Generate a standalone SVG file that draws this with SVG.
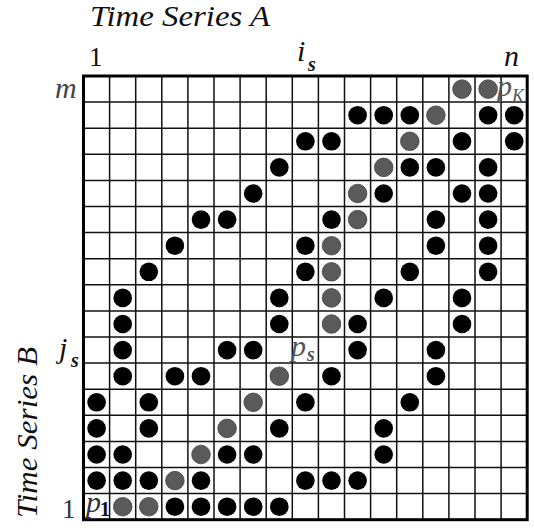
<svg xmlns="http://www.w3.org/2000/svg" width="534" height="528" viewBox="0 0 534 528">
<style>
.b{fill:#000}
.g{fill:#5a5a5a;stroke:#444;stroke-width:0.8}
.grid{stroke:#111;stroke-width:1.5;fill:none}
.frame{stroke:#000;stroke-width:3;fill:none}
</style>
<rect width="534" height="528" fill="#fff"/>
<g id="labels" font-family="Liberation Serif, Times New Roman, serif" fill="#111">
<text x="90" y="26" font-size="29" font-style="italic" textLength="180" lengthAdjust="spacingAndGlyphs">Time Series A</text>
<text transform="translate(37,518) rotate(-90)" font-size="29" font-style="italic" textLength="171" lengthAdjust="spacingAndGlyphs">Time Series B</text>
<text x="89" y="66" font-size="27" font-weight="300">1</text>
<text x="297" y="61" font-size="30" font-style="italic">i</text>
<text x="308" y="71" font-size="20" font-style="italic" font-weight="bold">s</text>
<text x="504" y="66" font-size="30" font-style="italic">n</text>
<text x="55" y="98" font-size="30" font-style="italic" fill="#444">m</text>
<text x="59" y="358" font-size="30" font-style="italic">j</text>
<text x="71" y="367" font-size="20" font-style="italic" font-weight="bold">s</text>
<text x="62" y="518" font-size="27" fill="#333">1</text>
</g>
<g id="grid">
<path class="grid" d="M109.6 76V519.7M135.7 76V519.7M161.8 76V519.7M187.9 76V519.7M214 76V519.7M240.1 76V519.7M266.2 76V519.7M292.3 76V519.7M318.4 76V519.7M344.5 76V519.7M370.6 76V519.7M396.7 76V519.7M422.8 76V519.7M448.9 76V519.7M475 76V519.7M501.1 76V519.7M83.5 102.1H527.2M83.5 128.2H527.2M83.5 154.3H527.2M83.5 180.4H527.2M83.5 206.5H527.2M83.5 232.6H527.2M83.5 258.7H527.2M83.5 284.8H527.2M83.5 310.9H527.2M83.5 337H527.2M83.5 363.1H527.2M83.5 389.2H527.2M83.5 415.3H527.2M83.5 441.4H527.2M83.5 467.5H527.2M83.5 493.6H527.2"/>
<rect class="frame" x="83.5" y="76" width="443.7" height="443.7"/>
</g>
<g id="black-points">
<circle class="b" r="9.3" cx="357.6" cy="115.2"/><circle class="b" r="9.3" cx="383.7" cy="115.2"/><circle class="b" r="9.3" cx="409.8" cy="115.2"/><circle class="b" r="9.3" cx="488.1" cy="115.2"/><circle class="b" r="9.3" cx="514.2" cy="115.2"/>
<circle class="b" r="9.3" cx="305.4" cy="141.3"/><circle class="b" r="9.3" cx="331.5" cy="141.3"/><circle class="b" r="9.3" cx="462" cy="141.3"/><circle class="b" r="9.3" cx="514.2" cy="141.3"/>
<circle class="b" r="9.3" cx="279.3" cy="167.4"/><circle class="b" r="9.3" cx="409.8" cy="167.4"/><circle class="b" r="9.3" cx="435.9" cy="167.4"/><circle class="b" r="9.3" cx="488.1" cy="167.4"/>
<circle class="b" r="9.3" cx="253.2" cy="193.5"/><circle class="b" r="9.3" cx="383.7" cy="193.5"/><circle class="b" r="9.3" cx="462" cy="193.5"/><circle class="b" r="9.3" cx="488.1" cy="193.5"/>
<circle class="b" r="9.3" cx="201" cy="219.6"/><circle class="b" r="9.3" cx="227.1" cy="219.6"/><circle class="b" r="9.3" cx="331.5" cy="219.6"/><circle class="b" r="9.3" cx="435.9" cy="219.6"/><circle class="b" r="9.3" cx="488.1" cy="219.6"/>
<circle class="b" r="9.3" cx="174.9" cy="245.7"/><circle class="b" r="9.3" cx="305.4" cy="245.7"/><circle class="b" r="9.3" cx="435.9" cy="245.7"/><circle class="b" r="9.3" cx="488.1" cy="245.7"/>
<circle class="b" r="9.3" cx="148.8" cy="271.8"/><circle class="b" r="9.3" cx="305.4" cy="271.8"/><circle class="b" r="9.3" cx="409.8" cy="271.8"/><circle class="b" r="9.3" cx="488.1" cy="271.8"/>
<circle class="b" r="9.3" cx="122.7" cy="297.9"/><circle class="b" r="9.3" cx="279.3" cy="297.9"/><circle class="b" r="9.3" cx="383.7" cy="297.9"/><circle class="b" r="9.3" cx="462" cy="297.9"/>
<circle class="b" r="9.3" cx="122.7" cy="324"/><circle class="b" r="9.3" cx="279.3" cy="324"/><circle class="b" r="9.3" cx="357.6" cy="324"/><circle class="b" r="9.3" cx="462" cy="324"/>
<circle class="b" r="9.3" cx="122.7" cy="350.1"/><circle class="b" r="9.3" cx="227.1" cy="350.1"/><circle class="b" r="9.3" cx="253.2" cy="350.1"/><circle class="b" r="9.3" cx="357.6" cy="350.1"/><circle class="b" r="9.3" cx="435.9" cy="350.1"/>
<circle class="b" r="9.3" cx="122.7" cy="376.2"/><circle class="b" r="9.3" cx="174.9" cy="376.2"/><circle class="b" r="9.3" cx="201" cy="376.2"/><circle class="b" r="9.3" cx="331.5" cy="376.2"/><circle class="b" r="9.3" cx="435.9" cy="376.2"/>
<circle class="b" r="9.3" cx="96.6" cy="402.3"/><circle class="b" r="9.3" cx="148.8" cy="402.3"/><circle class="b" r="9.3" cx="305.4" cy="402.3"/><circle class="b" r="9.3" cx="409.8" cy="402.3"/>
<circle class="b" r="9.3" cx="96.6" cy="428.4"/><circle class="b" r="9.3" cx="148.8" cy="428.4"/><circle class="b" r="9.3" cx="279.3" cy="428.4"/><circle class="b" r="9.3" cx="383.7" cy="428.4"/>
<circle class="b" r="9.3" cx="96.6" cy="454.5"/><circle class="b" r="9.3" cx="122.7" cy="454.5"/><circle class="b" r="9.3" cx="227.1" cy="454.5"/><circle class="b" r="9.3" cx="253.2" cy="454.5"/><circle class="b" r="9.3" cx="383.7" cy="454.5"/>
<circle class="b" r="9.3" cx="96.6" cy="480.6"/><circle class="b" r="9.3" cx="122.7" cy="480.6"/><circle class="b" r="9.3" cx="148.8" cy="480.6"/><circle class="b" r="9.3" cx="201" cy="480.6"/><circle class="b" r="9.3" cx="305.4" cy="480.6"/><circle class="b" r="9.3" cx="331.5" cy="480.6"/><circle class="b" r="9.3" cx="357.6" cy="480.6"/>
<circle class="b" r="9.3" cx="174.9" cy="506.7"/><circle class="b" r="9.3" cx="201" cy="506.7"/><circle class="b" r="9.3" cx="227.1" cy="506.7"/><circle class="b" r="9.3" cx="253.2" cy="506.7"/><circle class="b" r="9.3" cx="279.3" cy="506.7"/>
</g>
<g id="warping-path">
<circle class="g" r="9.3" cx="122.7" cy="506.7"/><circle class="g" r="9.3" cx="148.8" cy="506.7"/>
<circle class="g" r="9.3" cx="174.9" cy="480.6"/>
<circle class="g" r="9.3" cx="201" cy="454.5"/>
<circle class="g" r="9.3" cx="227.1" cy="428.4"/>
<circle class="g" r="9.3" cx="253.2" cy="402.3"/>
<circle class="g" r="9.3" cx="279.3" cy="376.2"/>
<circle class="g" r="9.3" cx="331.5" cy="324"/><circle class="g" r="9.3" cx="331.5" cy="297.9"/><circle class="g" r="9.3" cx="331.5" cy="271.8"/><circle class="g" r="9.3" cx="331.5" cy="245.7"/>
<circle class="g" r="9.3" cx="357.6" cy="219.6"/><circle class="g" r="9.3" cx="357.6" cy="193.5"/>
<circle class="g" r="9.3" cx="383.7" cy="167.4"/>
<circle class="g" r="9.3" cx="409.8" cy="141.3"/>
<circle class="g" r="9.3" cx="435.9" cy="115.2"/>
<circle class="g" r="9.3" cx="462" cy="89.1"/><circle class="g" r="9.3" cx="488.1" cy="89.1"/>
</g>
<g id="point-labels" font-family="Liberation Serif, Times New Roman, serif">
<text x="86" y="512" font-size="30" font-style="italic" fill="#333">p</text>
<text x="100" y="516" font-size="20" font-weight="bold" fill="#111">1</text>
<text x="291" y="356" font-size="30" font-style="italic" fill="#555">p</text>
<text x="307" y="361" font-size="20" font-style="italic" font-weight="bold" fill="#555">s</text>
<text x="497" y="96" font-size="30" font-style="italic" fill="#555">p</text>
<text x="512" y="102" font-size="18" font-style="italic" fill="#555">K</text>
</g>
</svg>
